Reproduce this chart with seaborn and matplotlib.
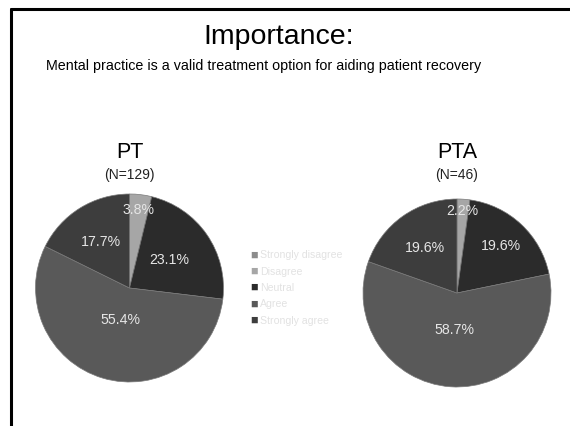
import matplotlib
matplotlib.use("Agg")
import matplotlib.pyplot as plt
import seaborn as sns
import numpy as np

categories = ["Strongly disagree", "Disagree", "Neutral", "Agree", "Strongly agree"]
pt_values = [0.0, 3.8, 23.1, 55.4, 17.7]
pta_values = [0.0, 2.2, 19.6, 58.7, 19.6]
groups = ["PT", "PTA"]
group_n = [129, 46]
title = "Importance:"
subtitle = "Mental practice is a valid treatment option for aiding patient recovery"

sns.set_theme(style="white")
plt.rcParams["font.family"] = ["Liberation Sans", "DejaVu Sans"]

colors = ["#8c8c8c", "#a6a6a6", "#2b2b2b", "#595959", "#3d3d3d"]
label_r = {"PT": [0.8, 0.84, 0.52, 0.35, 0.57], "PTA": [0.8, 0.87, 0.68, 0.39, 0.59]}

W, H = 570, 426
fig = plt.figure(figsize=(W / 100, H / 100), dpi=100)
fig.patch.set_facecolor("white")

# slide border (left and top)
fig.add_artist(plt.Line2D([11 / W, 11 / W], [0, 1 - 9 / H], color="black", lw=2.2))
fig.add_artist(plt.Line2D([11 / W, 1], [1 - 9 / H, 1 - 9 / H], color="black", lw=2.2))

fig.text(279 / W, 1 - 37 / H, title, ha="center", va="center", fontsize=20.5, color="black")
fig.text(264 / W, 1 - 66 / H, subtitle, ha="center", va="center", fontsize=10.3, color="black")

centers = [(129.5, 288), (457, 293)]
radius = 94
for g, n, vals, (cx, cy) in zip(groups, group_n, [pt_values, pta_values], centers):
    ax = fig.add_axes([(cx - radius) / W, 1 - (cy + radius) / H, 2 * radius / W, 2 * radius / H])
    wedges, _ = ax.pie(vals, colors=colors, startangle=90, counterclock=False,
                       wedgeprops=dict(linewidth=0.5, edgecolor="#7a7a7a"))
    ax.set_xlim(-1, 1)
    ax.set_ylim(-1, 1)
    ax.set_aspect("equal")
    for w, v, r in zip(wedges, vals, label_r[g]):
        if v <= 0:
            continue
        ang = np.deg2rad((w.theta1 + w.theta2) / 2)
        ax.text(r * np.cos(ang), r * np.sin(ang), f"{v:.1f}%", ha="center", va="center",
                fontsize=10.2, color="#e6e6e6")
    fig.text(cx / W, 1 - 152 / H, g, ha="center", va="center", fontsize=15.5, color="black")
    fig.text(cx / W, 1 - 175 / H, f"(N={n})", ha="center", va="center", fontsize=10, color="#222222")

# legend
for i, (cat, c) in enumerate(zip(categories, colors)):
    y = 1 - (255.5 + i * 16.3) / H
    fig.text(250 / W, y, "\u25a0", ha="left", va="center", fontsize=9, color=c)
    fig.text(260 / W, y, cat, ha="left", va="center", fontsize=7.6, color="#e2e2e2")

fig.savefig("out.png", dpi=100, facecolor="white")
